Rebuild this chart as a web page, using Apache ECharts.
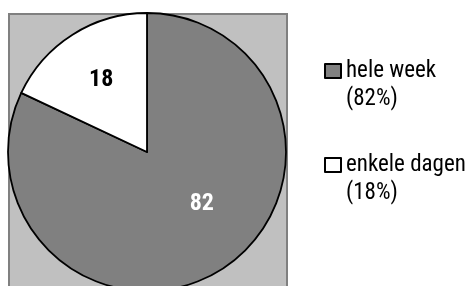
<!DOCTYPE html>
<html><head><meta charset="utf-8">
<script src="https://cdn.jsdelivr.net/npm/echarts@6/dist/echarts.min.js"></script>
<style>html,body{margin:0;padding:0;background:#fff}#c{width:471px;height:286px}</style>
</head><body><div id="c"></div>
<script>
const categories = ['hele week', 'enkele dagen'];
const values = [82, 18];
const colors = ['#808080', '#ffffff'];
const labelColors = ['#ffffff', '#000000'];

const FONT = '"Liberation Sans Narrow", "Arial Narrow", "Roboto Condensed", sans-serif';
const total = values.reduce((a, b) => a + b, 0);
const labelOffsets = [[16, -9], [-7, -11]];

const chart = echarts.init(document.getElementById('c'), null, {renderer: 'canvas'});
chart.setOption({
  animation: false,
  backgroundColor: '#ffffff',
  graphic: [{
    type: 'rect', left: 8, top: 13, z: -10, silent: true,
    shape: {width: 278, height: 290},
    style: {fill: '#c0c0c0', stroke: '#808080', lineWidth: 2}
  }],
  legend: {
    orient: 'vertical', left: 319, top: 24, itemGap: 10,
    itemWidth: 16, itemHeight: 14, icon: 'rect',
    selectedMode: false,
    data: categories,
    formatter: name => {
      const i = categories.indexOf(name);
      return '\n' + name + '\n(' + Math.round(values[i] / total * 100) + '%)';
    },
    textStyle: {fontFamily: FONT, fontSize: 23, color: '#000', lineHeight: 28},
    itemStyle: {borderColor: '#000', borderWidth: 2}
  },
  series: [{
    type: 'pie',
    center: [147, 152], radius: 139,
    startAngle: 90, clockwise: true,
    emphasis: {disabled: true},
    itemStyle: {borderColor: '#000', borderWidth: 1.8},
    label: {position: 'inside', fontFamily: FONT, fontSize: 24, fontWeight: 'bold', formatter: '{c}'},
    labelLine: {show: false},
    data: categories.map((n, i) => ({
      name: n, value: values[i],
      itemStyle: {color: colors[i]},
      label: {color: labelColors[i], offset: labelOffsets[i]}
    }))
  }]
});
</script></body></html>
